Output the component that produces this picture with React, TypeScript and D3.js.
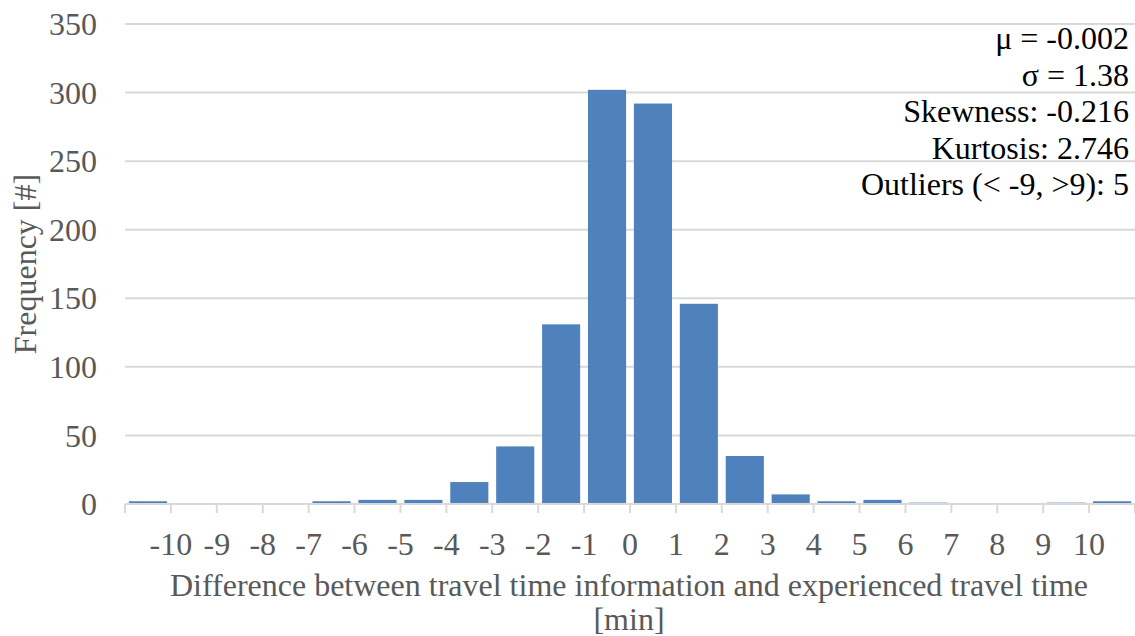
import * as d3 from "d3";

// bin start edges (minutes) and counts
const binStarts = [-11, -10, -9, -8, -7, -6, -5, -4, -3, -2, -1, 0, 1, 2, 3, 4, 5, 6, 7, 8, 9, 10];
const counts = [2, 0, 0, 0, 2, 3, 3, 16, 42, 131, 302, 292, 146, 35, 7, 2, 3, 1, 0, 0, 1, 2];
const xTickLabels = [-10, -9, -8, -7, -6, -5, -4, -3, -2, -1, 0, 1, 2, 3, 4, 5, 6, 7, 8, 9, 10];
const yTicks = [0, 50, 100, 150, 200, 250, 300, 350];
const statsLines = ["μ = -0.002", "σ = 1.38", "Skewness: -0.216", "Kurtosis: 2.746", "Outliers (< -9, >9): 5"];

const W = 1135;
const H = 636;
const FONT = '"Liberation Serif", "Times New Roman", serif';
const FS = 32;
const GREY = "#595959";
const GRID = "#d9d9d9";

export default function App() {
  const left = 125, right = 1135, top = 24, bottom = 504;
  const x = d3.scaleLinear().domain([-11, 11]).range([left, right]);
  const y = d3.scaleLinear().domain([0, 350]).range([bottom, top]);
  const step = x(1) - x(0);
  const gap = step * 0.17;
  const edges = d3.range(-11, 12);
  const ts = { fontFamily: FONT };

  return (
    <svg width={W} height={H} style={{ position: "absolute", left: 0, top: 0, background: "#fff" }}>
      {/* gridlines */}
      {yTicks.filter(t => t > 0).map(t => (
        <line key={t} x1={left} x2={right} y1={y(t)} y2={y(t)} stroke={GRID} strokeWidth={2} />
      ))}

      {/* y tick labels */}
      {yTicks.map(t => (
        <text key={t} x={97} y={y(t)} dy="0.35em" textAnchor="end" fontSize={FS} fill={GREY} style={ts}>
          {t}
        </text>
      ))}

      {/* bars */}
      {binStarts.map((b, i) => (
        <rect
          key={b}
          x={x(b) + gap / 2}
          width={step - gap}
          y={y(counts[i])}
          height={bottom - y(counts[i])}
          fill="#4f81bd"
        />
      ))}

      {/* x axis */}
      <line x1={left} x2={right} y1={bottom} y2={bottom} stroke={GRID} strokeWidth={2} />
      {edges.map(e => (
        <line key={e} x1={x(e)} x2={x(e)} y1={bottom} y2={bottom + 9} stroke={GRID} strokeWidth={2} />
      ))}
      {xTickLabels.map(v => (
        <text key={v} x={x(v)} y={555} textAnchor="middle" fontSize={FS} fill={GREY} style={ts}>
          {v}
        </text>
      ))}

      {/* axis titles */}
      <text x={629} y={596} textAnchor="middle" fontSize={FS} fill={GREY} style={ts}>
        Difference between travel time information and experienced travel time
      </text>
      <text x={629} y={630} textAnchor="middle" fontSize={FS} fill={GREY} style={ts}>
        [min]
      </text>
      <text
        transform={`translate(36,${(top + bottom) / 2}) rotate(-90)`}
        textAnchor="middle"
        fontSize={FS}
        fill={GREY}
        style={ts}
      >
        Frequency [#]
      </text>

      {/* stats */}
      {statsLines.map((s, i) => (
        <text key={s} x={1129} y={49 + i * 36.5} textAnchor="end" fontSize={FS} fill="#000" style={ts}>
          {s}
        </text>
      ))}
    </svg>
  );
}
